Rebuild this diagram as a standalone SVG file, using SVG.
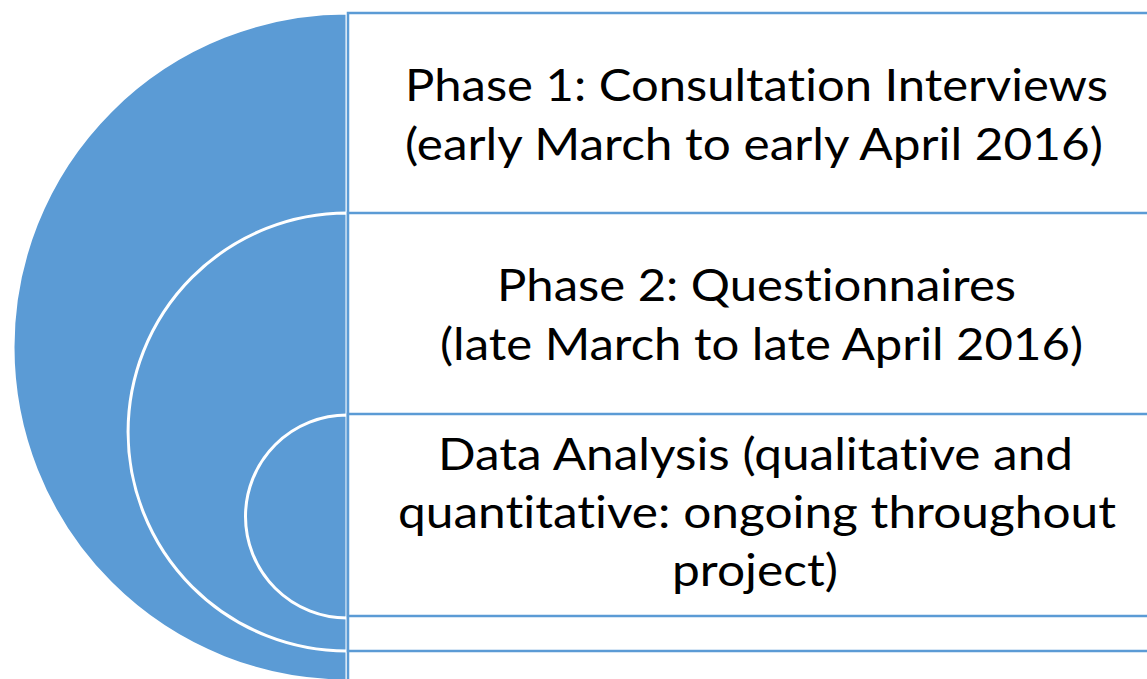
<svg xmlns="http://www.w3.org/2000/svg" width="1147" height="679" viewBox="0 0 1147 679">
<style>
.arc{fill:#5B9BD5;stroke:#FFFFFF;stroke-width:3}
.box{fill:#FFFFFF;stroke:#5B9BD5;stroke-width:2.5}
.t{font-family:Lato,"Open Sans","Liberation Sans",sans-serif;font-size:45px;fill:#000000;font-variant-ligatures:none;font-feature-settings:"liga" 0,"dlig" 0}
</style>
<rect width="1147" height="679" fill="#FFFFFF"/>
<g id="target">
<path class="arc" d="M347,13 A334,334 0 0 0 347,681 Z" stroke="none"/>
<path class="arc" d="M347,213 A219,219 0 0 0 347,651 Z"/>
<path class="arc" d="M347,415 A101.5,101.5 0 0 0 347,618 Z"/>
</g>
<g id="connectors"></g>
<g id="phase1">
<rect class="box" x="348" y="13" width="840" height="700"/>
<text class="t" x="405" y="101" textLength="703" lengthAdjust="spacingAndGlyphs">Phase 1: Consultation Interviews</text>
<text class="t" x="405" y="160" textLength="698" lengthAdjust="spacingAndGlyphs">(early March to early April 2016)</text>
</g>
<g id="phase2">
<rect class="box" x="348" y="213" width="840" height="438"/>
<text class="t" x="497" y="301" textLength="519" lengthAdjust="spacingAndGlyphs">Phase 2: Questionnaires</text>
<text class="t" x="440" y="360" textLength="643" lengthAdjust="spacingAndGlyphs">(late March to late April 2016)</text>
</g>
<g id="analysis">
<rect class="box" x="348" y="414" width="840" height="202"/>
<text class="t" x="438" y="470" textLength="635" lengthAdjust="spacingAndGlyphs">Data Analysis (qualitative and</text>
<text class="t" x="398" y="528" textLength="718" lengthAdjust="spacingAndGlyphs">quantitative: ongoing throughout</text>
<text class="t" x="672" y="586" textLength="166" lengthAdjust="spacingAndGlyphs">project)</text>
</g>
</svg>
